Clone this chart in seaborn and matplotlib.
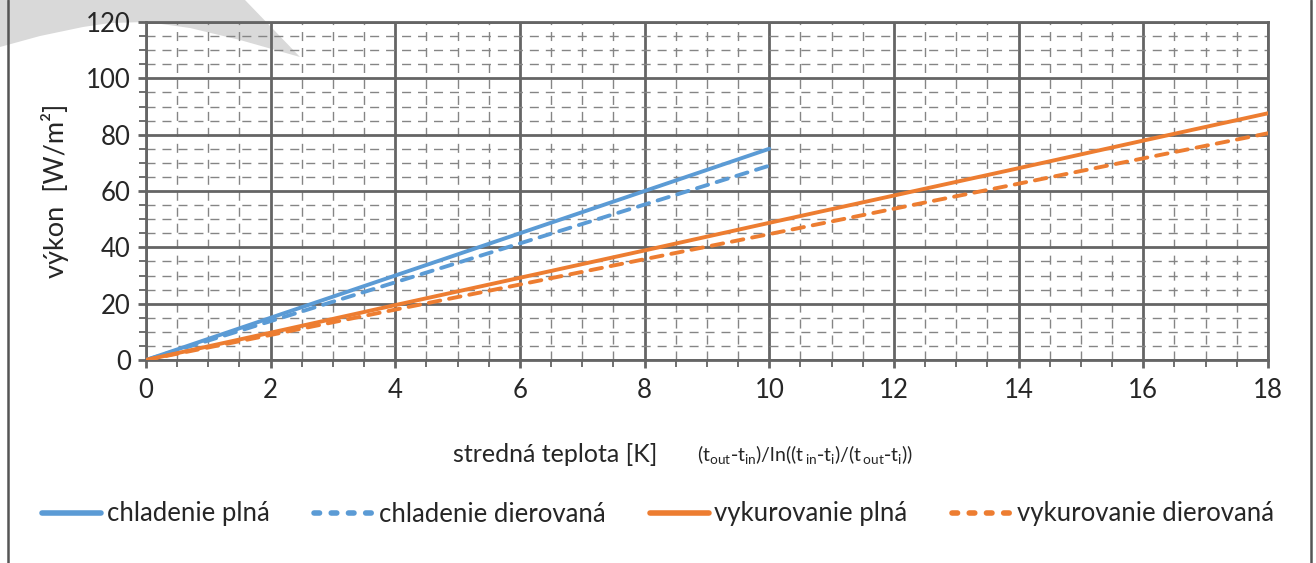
import matplotlib
matplotlib.use("Agg")
import matplotlib.pyplot as plt
from matplotlib.lines import Line2D
from matplotlib.patches import Polygon
from matplotlib.ticker import MultipleLocator
import pandas as pd
import seaborn as sns

# Heat output per m² versus mean temperature difference
x_cool = [0, 2, 4, 6, 8, 10]
cool_full = [0, 15.0, 30.0, 45.0, 60.0, 75.0]
cool_perf = [0, 13.8, 27.6, 41.4, 55.2, 69.0]

x_heat = [0, 2, 4, 6, 8, 10, 12, 14, 16, 18]
heat_full = [0, 9.7, 19.5, 29.2, 38.9, 48.7, 58.4, 68.1, 77.9, 87.6]
heat_perf = [0, 8.9, 17.9, 26.8, 35.8, 44.7, 53.7, 62.6, 71.6, 80.5]

series_names = ["chladenie plná", "chladenie dierovaná",
                "vykurovanie plná", "vykurovanie dierovaná"]
x_ticks = [0, 2, 4, 6, 8, 10, 12, 14, 16, 18]
y_ticks = [0, 20, 40, 60, 80, 100, 120]

BLUE = "#5B9BD5"
ORANGE = "#ED7D31"
TEXT = "#262626"
GRID_MAJOR = "#656565"
GRID_MINOR = "#858585"

sns.set_theme(style="white")
plt.rcParams["font.family"] = ["Lato", "DejaVu Sans"]

frames = []
for name, xs, ys in [(series_names[0], x_cool, cool_full),
                     (series_names[1], x_cool, cool_perf),
                     (series_names[2], x_heat, heat_full),
                     (series_names[3], x_heat, heat_perf)]:
    frames.append(pd.DataFrame({"x": xs, "y": ys, "series": name}))
df = pd.concat(frames, ignore_index=True)

W, H = 1316, 563
fig = plt.figure(figsize=(W / 100, H / 100), dpi=100)

# light grey backdrop shape in the upper-left corner
shape_px = [(0, 0), (245, 0), (300, 57), (240, 40), (190, 28), (147, 22),
            (110, 23), (83, 27), (40, 36), (0, 47)]
shape = Polygon([(px / W, 1 - py / H) for px, py in shape_px], closed=True,
                transform=fig.transFigure, facecolor="#d9d9d9",
                edgecolor="none", zorder=-5)
fig.patches.append(shape)

# outer frame sides
for px in (7.5, 1310.5):
    fig.add_artist(Line2D([px / W, px / W], [0, 1], transform=fig.transFigure,
                          color="#555555", lw=1.8))

left, right = 146 / W, 1268 / W
bottom, top = 1 - 360 / H, 1 - 22 / H
ax = fig.add_axes([left, bottom, right - left, top - bottom])
ax.set_facecolor("none")
ax.set_zorder(2)

palette = {series_names[0]: BLUE, series_names[1]: BLUE,
           series_names[2]: ORANGE, series_names[3]: ORANGE}
dashes = {series_names[0]: "", series_names[1]: (3.0, 2.3),
          series_names[2]: "", series_names[3]: (3.0, 2.3)}
sns.lineplot(data=df, x="x", y="y", hue="series", style="series",
             palette=palette, dashes=dashes, linewidth=2.8, ax=ax,
             legend=False, zorder=5)
for line in ax.get_lines():
    line.set_dash_capstyle("round")

ax.set_xlim(0, 18)
ax.set_ylim(0, 120)
ax.set_xticks(x_ticks)
ax.set_yticks(y_ticks)
ax.xaxis.set_minor_locator(MultipleLocator(0.5))
ax.yaxis.set_minor_locator(MultipleLocator(5))

ax.grid(which="major", color=GRID_MAJOR, lw=2.0, linestyle="-", zorder=1)
ax.grid(which="minor", color=GRID_MINOR, lw=1.0, linestyle=(0, (6.5, 5)), zorder=1)
ax.set_axisbelow(True)

for side in ("top", "right", "left", "bottom"):
    ax.spines[side].set_visible(True)
    ax.spines[side].set_color(GRID_MAJOR)
    ax.spines[side].set_linewidth(2.0)

ax.tick_params(axis="both", which="major", direction="out", length=6,
               width=2.0, color=GRID_MAJOR, labelsize=18.5, labelcolor=TEXT,
               pad=5, bottom=True, left=True)
ax.tick_params(axis="both", which="minor", direction="out", length=5,
               width=1.3, color=GRID_MAJOR, bottom=True, left=True)
ax.tick_params(axis="x", which="major", pad=7)

ax.set_xlabel("")
ax.set_ylabel("výkon  [W/m²]", fontsize=19.5, color=TEXT, labelpad=12)

fig.text(555 / W, 1 - 455 / H, "stredná teplota [K]", fontsize=18,
         color=TEXT, ha="center", va="center")
fig.text(805 / W, 1 - 455 / H,
         r"$\mathregular{(t_{out}\text{-}t_{in})/ln((t_{\,in}\text{-}t_{i})/(t_{\,out}\text{-}t_{i}))}$",
         fontsize=14, color=TEXT, ha="center", va="center")

handles = [
    Line2D([], [], color=BLUE, lw=4, solid_capstyle="round"),
    Line2D([], [], color=BLUE, lw=4, linestyle=(0, (1.0, 2.1)), dash_capstyle="round"),
    Line2D([], [], color=ORANGE, lw=4, solid_capstyle="round"),
    Line2D([], [], color=ORANGE, lw=4, linestyle=(0, (1.0, 2.1)), dash_capstyle="round"),
]
leg = fig.legend(handles, series_names, loc="center",
                 bbox_to_anchor=(0.5, 1 - 514 / H), ncol=4, frameon=False,
                 fontsize=18.5, handlelength=2.3, handletextpad=0.2,
                 columnspacing=1.75, labelcolor=TEXT)

fig.savefig("out.png", dpi=100)
